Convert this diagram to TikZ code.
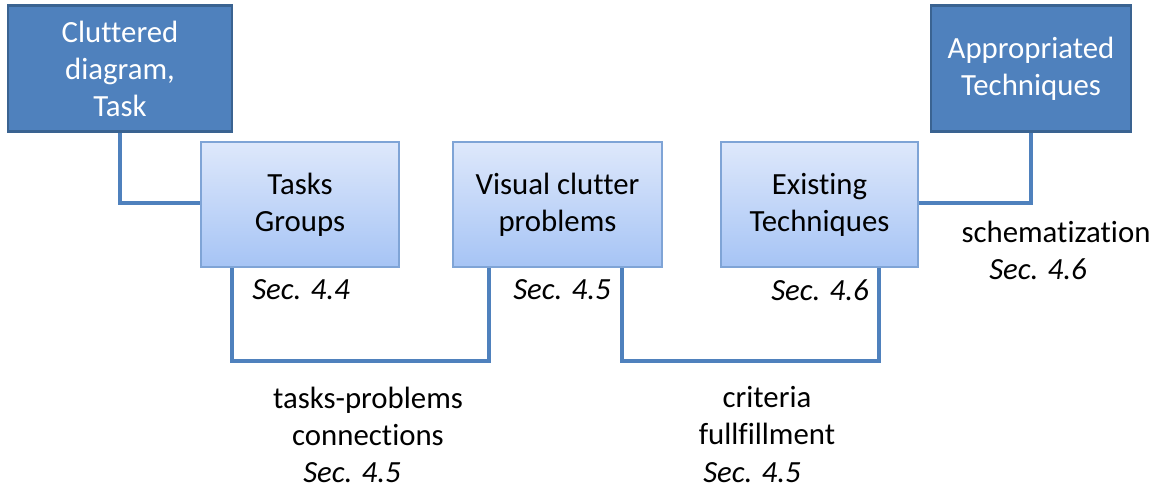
\documentclass[tikz,border=0pt]{standalone}
\usepackage{fontspec}
\setmainfont[Ligatures={NoCommon}]{Carlito}
\usetikzlibrary{backgrounds}
\definecolor{darkfill}{HTML}{4F81BD}
\definecolor{darkedge}{HTML}{3A6391}
\definecolor{lighttop}{HTML}{DEE8FB}
\definecolor{lightbot}{HTML}{A6C4F5}
\definecolor{lightedge}{HTML}{7FA4D6}
\definecolor{linkcol}{HTML}{4F81BD}
\begin{document}
\begin{tikzpicture}[x=1pt,y=-1pt,
  every node/.style={font=\fontsize{30.8}{37}\selectfont, inner sep=0pt},
  darkbox/.style={draw=darkedge, line width=2.5pt, fill=darkfill, text=white, align=center, minimum width=224pt, minimum height=126pt},
  lightbox/.style={draw=lightedge, line width=1.5pt, top color=lighttop, bottom color=lightbot, text=black, align=center, minimum width=198pt, minimum height=125pt},
  link/.style={draw=linkcol, line width=4pt, line cap=butt, line join=miter},
  lbl/.style={align=center, text=black},
  sec/.style={font=\fontsize{30.8}{37}\selectfont\itshape, text=black}
]
\useasboundingbox (0,0) rectangle (1157,490);
\node[darkbox] (clut) at (120,68.5) {Cluttered\\diagram,\\Task};
\node[darkbox, minimum width=200pt] (appr) at (1031,68.5) {Appropriated\\Techniques};
\node[lightbox] (tasks) at (300,204.5) {Tasks\\Groups};
\node[lightbox, minimum width=209pt] (vis) at (557.5,204.5) {Visual clutter\\problems};
\node[lightbox, minimum width=197pt] (exist) at (819.5,204.5) {Existing\\Techniques};
\coordinate (c1) at (120,203);
\coordinate (c2a) at (232,361);
\coordinate (c2b) at (489,361);
\coordinate (c3a) at (622,361);
\coordinate (c3b) at (879,361);
\coordinate (c4) at (1031,203);
\begin{scope}[on background layer]
\draw[link] (clut.south -| c1) |- (tasks.west |- c1);
\draw[link] (tasks.south -| c2a) -- (c2a) -- (c2b) -- (vis.south -| c2b);
\draw[link] (vis.south -| c3a) -- (c3a) -- (c3b) -- (exist.south -| c3b);
\draw[link] (appr.south -| c4) |- (exist.east |- c4);
\end{scope}
% labels
\node[sec] (s44) at (301,290) {Sec. 4.4};
\node[sec] (s45a) at (562,290) {Sec. 4.5};
\node[sec] (s46a) at (820,290) {Sec. 4.6};
\node[lbl] (schem) at (1056,232) {schematization};
\node[sec] (s46b) at (1038,269) {Sec. 4.6};
\node[lbl] (tpc) at (368,416) {tasks-problems\\connections};
\node[sec] (s45b) at (352,473) {Sec. 4.5};
\node[lbl] (crit) at (767,416) {criteria\\fullfillment};
\node[sec] (s45c) at (752,473) {Sec. 4.5};
\end{tikzpicture}
\end{document}
